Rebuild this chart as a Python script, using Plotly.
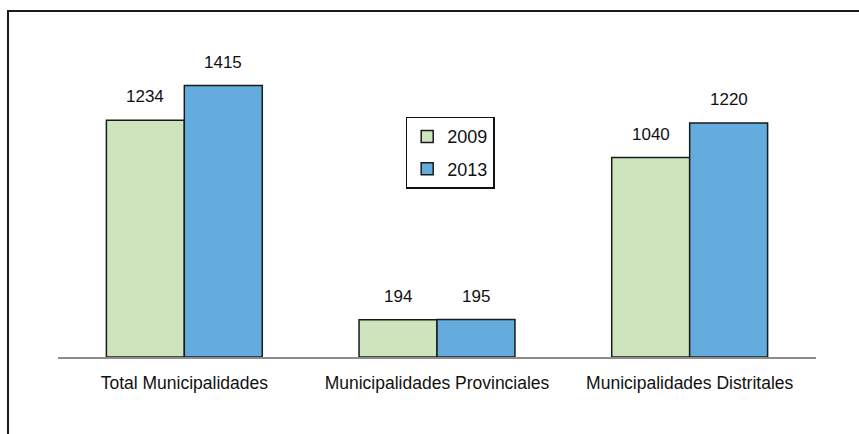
import plotly.graph_objects as go

categories = ["Total Municipalidades", "Municipalidades Provinciales", "Municipalidades Distritales"]
series_names = ["2009", "2013"]
values_2009 = [1234, 194, 1040]
values_2013 = [1415, 195, 1220]
colors = ["#CDE4BC", "#64ACDD"]

FONT = "Liberation Sans, Arial, sans-serif"
FS = 17.5
W, H = 859, 434
L, R, T, B = 58, 43, 40, 77
plot_h = H - T - B
px_per_unit = 271.4 / 1415
ymax = plot_h / px_per_unit

fig = go.Figure()
for name, vals, col in zip(series_names, [values_2009, values_2013], colors):
    fig.add_trace(go.Bar(
        x=categories, y=vals, name=name, legendgroup=name,
        marker=dict(color=col, line=dict(color="#1a1a1a", width=1.5)),
    ))

annotations = []
for vals, shift in [(values_2009, -39), (values_2013, 39)]:
    for c, v in zip(categories, vals):
        annotations.append(dict(
            x=c, y=v, xref="x", yref="y", text=str(v), showarrow=False,
            xshift=shift, yshift=12, yanchor="bottom",
            font=dict(family=FONT, size=17, color="#111111"),
        ))

fig.update_layout(
    width=W, height=H,
    margin=dict(l=L, r=R, t=T, b=B, pad=0),
    paper_bgcolor="white", plot_bgcolor="white",
    barmode="group", bargap=0.383, bargroupgap=0,
    font=dict(family=FONT, size=FS, color="#111111"),
    showlegend=True,
    legend=dict(
        x=(405.7 - L) / (W - L - R), y=(H - B - 116.7) / plot_h,
        xanchor="left", yanchor="top",
        bordercolor="#111111", borderwidth=1.5, bgcolor="white",
        font=dict(family=FONT, size=18, color="#111111"),
        itemwidth=30, tracegroupgap=6, entrywidth=100,
    ),
    xaxis=dict(
        showline=True, linecolor="#8c8c8c", linewidth=2,
        showgrid=False, ticks="", ticklabelstandoff=9,
        tickfont=dict(family=FONT, size=FS, color="#111111"),
    ),
    yaxis=dict(
        range=[0, ymax], visible=False, showgrid=False, zeroline=False,
    ),
    annotations=annotations,
    shapes=[dict(
        type="rect", xref="paper", yref="paper",
        x0=(8 - L) / (W - L - R), x1=1.3,
        y0=-0.5, y1=(H - B - 11) / plot_h,
        line=dict(color="#1a1a1a", width=2), layer="above",
    )],
)

fig.write_html(
    "out.html",
    config={"displayModeBar": False},
    post_script="document.body.style.margin='0';document.body.style.overflow='hidden';",
)
